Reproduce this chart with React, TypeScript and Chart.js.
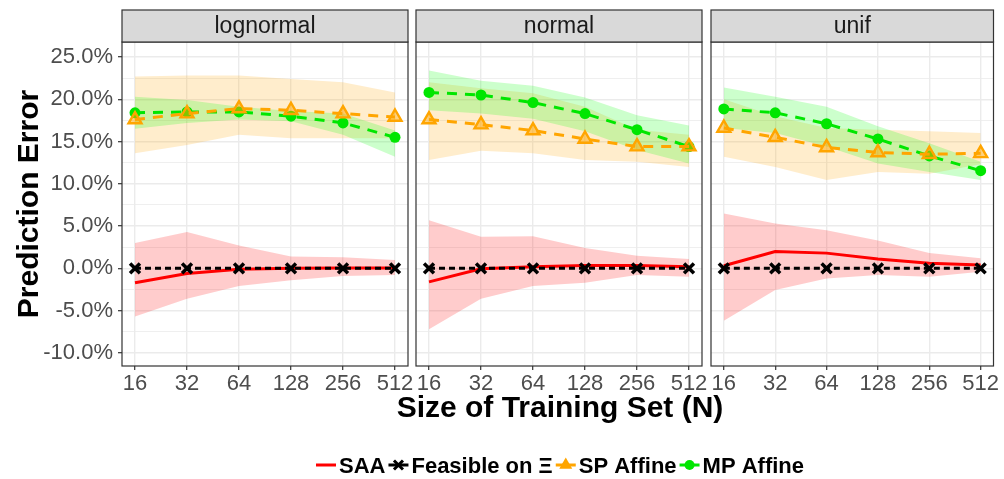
import React, { useEffect, useRef } from "react";
import { Chart, registerables } from "chart.js";

Chart.register(...registerables);

// ---------- data ----------
const N_VALUES = [16, 32, 64, 128, 256, 512];
const PANEL_NAMES = ["lognormal", "normal", "unif"];
const Y_GRID = [-10, -7.5, -5, -2.5, 0, 2.5, 5, 7.5, 10, 12.5, 15, 17.5, 20, 22.5, 25];
const Y_MIN = -11.55;
const Y_MAX = 26.77;
const Y_TITLE = "Prediction Error";
const X_TITLE = "Size of Training Set (N)";
const LEGEND_LABELS = ["SAA", "Feasible on Ξ", "SP Affine", "MP Affine"];

// lognormal
const LOG_SAA = [-1.7, -0.6, -0.1, 0.0, 0.05, 0.05];
const LOG_SAA_HI = [3.0, 4.3, 2.7, 1.4, 1.3, 1.0];
const LOG_SAA_LO = [-5.7, -3.6, -2.1, -1.4, -0.9, -0.8];
const LOG_FEAS = [0, 0, 0, 0, 0, 0];
const LOG_SP = [17.6, 18.3, 18.9, 18.7, 18.3, 17.9];
const LOG_SP_HI = [22.7, 22.8, 22.8, 22.4, 22.0, 20.8];
const LOG_SP_LO = [13.6, 14.6, 15.8, 15.4, 15.4, 15.4];
const LOG_MP = [18.4, 18.5, 18.5, 18.0, 17.2, 15.5];
const LOG_MP_HI = [20.3, 19.9, 19.1, 18.6, 18.3, 16.3];
const LOG_MP_LO = [16.5, 17.2, 17.6, 17.4, 15.8, 13.2];

// normal
const NOR_SAA = [-1.6, -0.05, 0.2, 0.35, 0.35, 0.2];
const NOR_SAA_HI = [5.7, 3.75, 3.8, 2.4, 1.5, 1.1];
const NOR_SAA_LO = [-7.2, -3.6, -2.1, -1.7, -0.8, -1.0];
const NOR_FEAS = [0, 0, 0, 0, 0, 0];
const NOR_SP = [17.6, 17.0, 16.3, 15.3, 14.4, 14.4];
const NOR_SP_HI = [22.0, 21.3, 20.7, 19.1, 16.4, 15.8];
const NOR_SP_LO = [12.8, 13.9, 13.6, 12.8, 12.6, 12.0];
const NOR_MP = [20.8, 20.5, 19.6, 18.3, 16.4, 14.4];
const NOR_MP_HI = [23.4, 22.2, 21.6, 20.2, 18.1, 16.9];
const NOR_MP_LO = [18.7, 18.3, 17.7, 16.2, 14.0, 12.4];

// unif
const UNI_SAA = [0.3, 2.0, 1.8, 1.1, 0.6, 0.4];
const UNI_SAA_HI = [6.5, 5.3, 4.5, 3.3, 1.8, 1.2];
const UNI_SAA_LO = [-6.2, -2.55, -1.2, -0.8, -1.0, -0.4];
const UNI_FEAS = [0, 0, 0, 0, 0, 0];
const UNI_SP = [16.6, 15.5, 14.3, 13.7, 13.5, 13.6];
const UNI_SP_HI = [20.0, 18.0, 16.6, 16.4, 16.2, 16.0];
const UNI_SP_LO = [13.2, 12.0, 10.45, 11.4, 11.2, 12.3];
const UNI_MP = [18.85, 18.4, 17.1, 15.3, 13.3, 11.55];
const UNI_MP_HI = [21.4, 20.3, 19.1, 16.8, 14.8, 12.6];
const UNI_MP_LO = [16.6, 16.0, 14.4, 12.4, 11.4, 10.45];

const PANEL_DATA = [
  { saa: LOG_SAA, saaHi: LOG_SAA_HI, saaLo: LOG_SAA_LO, feas: LOG_FEAS, sp: LOG_SP, spHi: LOG_SP_HI, spLo: LOG_SP_LO, mp: LOG_MP, mpHi: LOG_MP_HI, mpLo: LOG_MP_LO },
  { saa: NOR_SAA, saaHi: NOR_SAA_HI, saaLo: NOR_SAA_LO, feas: NOR_FEAS, sp: NOR_SP, spHi: NOR_SP_HI, spLo: NOR_SP_LO, mp: NOR_MP, mpHi: NOR_MP_HI, mpLo: NOR_MP_LO },
  { saa: UNI_SAA, saaHi: UNI_SAA_HI, saaLo: UNI_SAA_LO, feas: UNI_FEAS, sp: UNI_SP, spHi: UNI_SP_HI, spLo: UNI_SP_LO, mp: UNI_MP, mpHi: UNI_MP_HI, mpLo: UNI_MP_LO },
];

// ---------- style ----------
const FONT = "'Liberation Sans', Arial, Helvetica, sans-serif";
const RED = "#FF0000";
const ORANGE = "#FFA500";
const GREEN = "#00E600";
const BLACK = "#000000";
const W = 1004;
const H = 479;

// panel placement: [left padding, right padding]
const PANEL_PAD = [
  { left: 0, right: W - 408 },
  { left: 416, right: W - 702 },
  { left: 711, right: W - 996 },
];

const LOG_PAD = 0.05 * Math.log2(N_VALUES[N_VALUES.length - 1] / N_VALUES[0]);
const X_MIN = N_VALUES[0] / Math.pow(2, LOG_PAD);
const X_MAX = N_VALUES[N_VALUES.length - 1] * Math.pow(2, LOG_PAD);

const isMajor = (v: number) => Math.abs(v % 5) < 1e-9;

const stripPlugin = {
  id: "strip",
  afterDraw(chart: any, _args: any, opts: any) {
    const { ctx, chartArea } = chart;
    const { left, right, top, bottom } = chartArea;
    ctx.save();
    ctx.strokeStyle = "#333333";
    ctx.lineWidth = 1.2;
    ctx.strokeRect(left, top, right - left, bottom - top);
    const sTop = top - 32;
    ctx.fillStyle = "#D9D9D9";
    ctx.fillRect(left, sTop, right - left, top - sTop);
    ctx.strokeRect(left, sTop, right - left, top - sTop);
    ctx.fillStyle = "#1A1A1A";
    ctx.font = `23px ${FONT}`;
    ctx.textAlign = "center";
    ctx.textBaseline = "middle";
    ctx.fillText(opts.title, (left + right) / 2, (sTop + top) / 2 + 1);
    ctx.restore();
  },
};

function drawMarker(ctx: any, kind: string, x: number, y: number, color: string) {
  ctx.save();
  if (kind === "cross") {
    ctx.strokeStyle = color;
    ctx.lineWidth = 3;
    const r = 4.5;
    ctx.beginPath();
    ctx.moveTo(x - r, y - r);
    ctx.lineTo(x + r, y + r);
    ctx.moveTo(x + r, y - r);
    ctx.lineTo(x - r, y + r);
    ctx.stroke();
  } else if (kind === "triangle") {
    ctx.fillStyle = color;
    const r = 7.5;
    ctx.beginPath();
    ctx.moveTo(x, y - r);
    ctx.lineTo(x + r * 0.866, y + r * 0.5);
    ctx.lineTo(x - r * 0.866, y + r * 0.5);
    ctx.closePath();
    ctx.fill();
  } else if (kind === "circle") {
    ctx.fillStyle = color;
    ctx.beginPath();
    ctx.arc(x, y, 5, 0, Math.PI * 2);
    ctx.fill();
  }
  ctx.restore();
}

const figureTextPlugin = {
  id: "figureText",
  afterDraw(chart: any, _args: any, opts: any) {
    if (!opts || !opts.show) return;
    const { ctx, chartArea } = chart;
    const cx = (chartArea.left + chartArea.right) / 2;
    ctx.save();
    ctx.fillStyle = BLACK;
    ctx.textAlign = "center";
    ctx.textBaseline = "alphabetic";
    ctx.font = `bold 30px ${FONT}`;
    ctx.fillText(X_TITLE, cx + 1, chartArea.bottom + 51);

    const keys = [
      { color: RED, marker: "" },
      { color: BLACK, marker: "cross" },
      { color: ORANGE, marker: "triangle" },
      { color: GREEN, marker: "circle" },
    ];
    ctx.font = `bold 22px ${FONT}`;
    const keyW = 20;
    const gapKT = 3;
    const gapItem = 3;
    const widths = LEGEND_LABELS.map((l) => ctx.measureText(l).width);
    const total = widths.reduce((a, w) => a + keyW + gapKT + w, 0) + gapItem * (LEGEND_LABELS.length - 1);
    let x = cx + 1 - total / 2;
    const ky = chartArea.bottom + 99;
    ctx.textAlign = "left";
    LEGEND_LABELS.forEach((label, i) => {
      const k = keys[i];
      ctx.strokeStyle = k.color;
      ctx.lineWidth = 3;
      ctx.beginPath();
      ctx.moveTo(x, ky);
      ctx.lineTo(x + keyW, ky);
      ctx.stroke();
      if (k.marker) drawMarker(ctx, k.marker, x + keyW / 2, ky, k.color);
      ctx.fillStyle = BLACK;
      ctx.fillText(label, x + keyW + gapKT, ky + 8);
      x += keyW + gapKT + widths[i] + gapItem;
    });
    ctx.restore();
  },
};

const pts = (arr: number[]) => arr.map((y, i) => ({ x: N_VALUES[i], y }));

function buildConfig(idx: number): any {
  const d = PANEL_DATA[idx];
  const first = idx === 0;
  const ribbon = (hi: number[], lo: number[], color: string) => [
    { data: pts(hi), borderWidth: 0, pointRadius: 0, fill: "+1", backgroundColor: color, order: 5 },
    { data: pts(lo), borderWidth: 0, pointRadius: 0, fill: false, backgroundColor: color, order: 5 },
  ];
  const datasets = [
    {
      label: "Feasible on Ξ",
      data: pts(d.feas),
      borderColor: BLACK,
      borderWidth: 3,
      borderDash: [6, 4],
      pointStyle: "crossRot",
      pointRadius: 7,
      pointBorderWidth: 3.5,
      pointBorderColor: BLACK,
      pointBackgroundColor: BLACK,
      fill: false,
      order: 0,
    },
    {
      label: "SP Affine",
      data: pts(d.sp),
      borderColor: ORANGE,
      borderWidth: 3,
      borderDash: [10, 8],
      pointStyle: "triangle",
      pointRadius: 7.5,
      pointBorderWidth: 2.4,
      pointBorderColor: ORANGE,
      pointBackgroundColor: "rgba(255,165,0,0.5)",
      fill: false,
      order: 1,
    },
    {
      label: "MP Affine",
      data: pts(d.mp),
      borderColor: GREEN,
      borderWidth: 3,
      borderDash: [10, 8],
      pointStyle: "circle",
      pointRadius: 5.5,
      pointBorderWidth: 0,
      pointBorderColor: GREEN,
      pointBackgroundColor: GREEN,
      fill: false,
      order: 2,
    },
    {
      label: "SAA",
      data: pts(d.saa),
      borderColor: RED,
      borderWidth: 3,
      pointRadius: 0,
      fill: false,
      order: 3,
    },
    ...ribbon(d.mpHi, d.mpLo, "rgba(0,255,0,0.2)"),
    ...ribbon(d.spHi, d.spLo, "rgba(255,165,0,0.2)"),
    ...ribbon(d.saaHi, d.saaLo, "rgba(255,0,0,0.2)"),
  ];

  return {
    type: "line",
    data: { datasets },
    plugins: [stripPlugin, figureTextPlugin],
    options: {
      responsive: false,
      maintainAspectRatio: false,
      animation: false,
      devicePixelRatio: 1,
      events: [],
      layout: { padding: { top: 42, bottom: 79, left: PANEL_PAD[idx].left, right: PANEL_PAD[idx].right } },
      elements: { line: { tension: 0 } },
      plugins: {
        legend: { display: false },
        tooltip: { enabled: false },
        strip: { title: PANEL_NAMES[idx] },
        figureText: { show: idx === 1 },
      },
      scales: {
        x: {
          type: "logarithmic",
          min: X_MIN,
          max: X_MAX,
          afterBuildTicks: (s: any) => {
            s.ticks = N_VALUES.map((v) => ({ value: v }));
          },
          afterFit: (s: any) => {
            s.height = 34;
          },
          ticks: {
            callback: (v: any) => String(v),
            autoSkip: false,
            maxRotation: 0,
            minRotation: 0,
            color: "#4D4D4D",
            font: { family: FONT, size: 22 },
            padding: 1,
          },
          grid: { color: "#EBEBEB", lineWidth: 1.4, tickColor: "#333333", tickLength: 4, tickWidth: 1.2 },
          border: { display: false },
        },
        y: {
          type: "linear",
          min: Y_MIN,
          max: Y_MAX,
          afterBuildTicks: (s: any) => {
            s.ticks = Y_GRID.map((v) => ({ value: v }));
          },
          afterFit: (s: any) => {
            s.width = first ? 122 : 0;
          },
          ticks: {
            display: first,
            autoSkip: false,
            callback: (v: any) => (isMajor(v) ? Number(v).toFixed(1) + "%" : ""),
            color: "#4D4D4D",
            font: { family: FONT, size: 22 },
            padding: 5,
          },
          grid: {
            color: "#EBEBEB",
            lineWidth: (c: any) => (c.tick && isMajor(c.tick.value) ? 1.4 : 0.8),
            drawTicks: first,
            tickLength: 4,
            tickWidth: 1.2,
            tickColor: (c: any) => (c.tick && isMajor(c.tick.value) ? "#333333" : "rgba(0,0,0,0)"),
          },
          border: { display: false },
          title: {
            display: first,
            text: Y_TITLE,
            color: BLACK,
            font: { family: FONT, size: 30, weight: "bold" },
            padding: { top: 12, bottom: 0 },
          },
        },
      },
    },
  };
}

export default function App() {
  const refs = [useRef<HTMLCanvasElement>(null), useRef<HTMLCanvasElement>(null), useRef<HTMLCanvasElement>(null)];
  useEffect(() => {
    const charts = refs.map((r, i) => new Chart(r.current as HTMLCanvasElement, buildConfig(i)));
    return () => charts.forEach((c) => c.destroy());
  }, []);
  return (
    <div style={{ position: "absolute", left: 0, top: 0, width: W, height: H, background: "#FFFFFF" }}>
      {refs.map((r, i) => (
        <canvas
          key={i}
          ref={r}
          width={W}
          height={H}
          style={{ position: "absolute", left: 0, top: 0, width: W, height: H }}
        />
      ))}
    </div>
  );
}
